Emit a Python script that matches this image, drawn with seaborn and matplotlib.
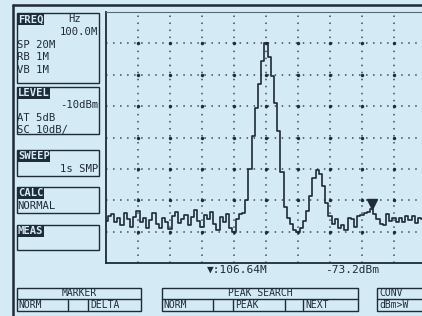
import numpy as np
import matplotlib
matplotlib.use("Agg")
import matplotlib.pyplot as plt
import matplotlib.transforms as mtrans
from matplotlib.lines import Line2D
from matplotlib.patches import Rectangle
import seaborn as sns
import pandas as pd

# Sweep-Einstellungen (Mitte 100 MHz, Span 20 MHz)
sweep_start = 90.0
sweep_stop = 110.0
ref_level = -10
scale_db = 10
n_div_x = 10
n_div_y = 8

# Messkurve in dBm, 101 Punkte
levels_dbm = [
    -76.5, -75.0, -74.5, -76.8, -75.5, -77.9, -74.2, -76.0, -78.6, -75.2,
    -73.5, -77.0, -75.8, -79.0, -76.2, -74.0, -77.5, -78.8, -75.5, -76.9,
    -79.2, -75.0, -73.8, -77.3, -76.0, -74.6, -78.0, -75.2, -73.2, -76.6,
    -78.5, -74.8, -76.1, -73.9, -77.6, -79.5, -75.3, -77.0, -74.4, -78.9,
    -80.0, -76.0, -74.5, -74.0, -70.0, -60.0, -49.5, -40.5, -33.0, -25.5,
    -20.0, -24.5, -30.5, -39.0, -48.0, -61.0, -72.0, -75.5, -77.5, -79.5,
    -80.0, -79.0, -76.5, -73.5, -68.5, -63.0, -60.3, -61.5, -65.5, -71.0,
    -75.0, -77.5, -76.0, -79.0, -77.8, -79.5, -75.5, -76.0, -78.5, -75.0,
    -74.8, -74.0, -73.8, -72.8, -74.5, -76.0, -77.5, -78.0, -74.5, -76.5,
    -75.5, -77.0, -75.8, -76.8, -74.9, -76.2, -75.0, -77.2, -75.5, -76.0,
    -75.5,
]
freq_mhz = np.linspace(sweep_start, sweep_stop, len(levels_dbm))

marker_freq = 106.64
marker_level = -73.2

# Linkes Menue
freq_lines = ["100.0M", "SP 20M", "RB 1M", "VB 1M"]
level_lines = ["-10dBm", "AT 5dB", "SC 10dB/"]
sweep_lines = ["1s SMP"]
calc_lines = ["NORMAL"]

bg = "#d4eaf4"
dark = "#1e2b38"
mono = ["DejaVu Sans Mono", "DejaVu Sans"]
fs = 7.6

W, H = 422, 316


def fx(x):
    return x / W


def fy(y):
    return 1 - y / H


sns.set_style("white", {"axes.facecolor": bg, "figure.facecolor": bg})
plt.rcParams["font.family"] = mono

fig = plt.figure(figsize=(W / 100, H / 100), dpi=100)
ax = fig.add_axes([fx(106), fy(263), 320 / W, 251 / H])

df = pd.DataFrame({"freq": freq_mhz, "level": levels_dbm})
sns.lineplot(data=df, x="freq", y="level", ax=ax, color=dark, lw=1.2,
             drawstyle="steps-mid", estimator=None, sort=False, zorder=4)

ax.set_xlim(sweep_start, sweep_stop)
ax.set_ylim(ref_level - n_div_y * scale_db, ref_level)
xt = np.linspace(sweep_start, sweep_stop, n_div_x + 1)[1:-1]
yt = np.linspace(ref_level - n_div_y * scale_db, ref_level, n_div_y + 1)[1:-1]
ax.set_xticks(xt)
ax.set_yticks(yt)
ax.tick_params(length=0, labelbottom=False, labelleft=False)
ax.grid(True, ls=(0, (1, 3.6)), lw=1.1, color="#3c4c5a")
gx, gy = np.meshgrid(xt, yt)
ax.scatter(gx.ravel(), gy.ravel(), s=6, color=dark, zorder=3, lw=0)
ax.set_xlabel("")
ax.set_ylabel("")

for side in ["left", "bottom"]:
    ax.spines[side].set_color(dark)
    ax.spines[side].set_linewidth(1.3)
ax.spines["top"].set_color("#5a6a78")
ax.spines["top"].set_linewidth(0.8)
ax.spines["right"].set_visible(False)

# Marker
off = mtrans.offset_copy(ax.transData, fig=fig, x=0, y=6, units="dots")
ax.plot([marker_freq], [marker_level], marker="v", ms=7, color=dark,
        transform=off, zorder=5)

# Aussenrahmen
fig.add_artist(Line2D([fx(13), 1], [fy(5), fy(5)], color=dark, lw=1.8))
fig.add_artist(Line2D([fx(13), fx(13)], [fy(5), 0], color=dark, lw=1.8))


def box(x0, y0, x1, y1):
    fig.add_artist(Rectangle((fx(x0), fy(y1)), (x1 - x0) / W, (y1 - y0) / H,
                             transform=fig.transFigure, fill=False,
                             ec=dark, lw=1.0))


def hline(x0, x1, y):
    fig.add_artist(Line2D([fx(x0), fx(x1)], [fy(y), fy(y)], color=dark, lw=1.0))


def vline(x, y0, y1):
    fig.add_artist(Line2D([fx(x), fx(x)], [fy(y0), fy(y1)], color=dark, lw=1.0))


def header(x, y, s):
    fig.text(fx(x), fy(y), s, fontsize=fs, color=bg, fontweight="bold",
             va="center", ha="left",
             bbox=dict(boxstyle="square,pad=0.05", fc=dark, ec="none"))


def txt(x, y, s, ha="left", size=fs):
    fig.text(fx(x), fy(y), s, fontsize=size, color=dark, va="center", ha=ha)


# FREQ
box(17, 13, 99, 83)
header(18, 19.5, "FREQ")
txt(68, 19.5, "Hz")
txt(98, 32, freq_lines[0], ha="right")
for y, s in zip([44.5, 57, 69.5], freq_lines[1:]):
    txt(17, y, s)

# LEVEL
box(17, 87, 99, 134)
header(18, 93, "LEVEL")
txt(98, 105.5, level_lines[0], ha="right")
txt(17, 118, level_lines[1])
txt(17, 130.5, level_lines[2])

# SWEEP
box(17, 150, 99, 176)
header(18, 156, "SWEEP")
txt(98, 169, sweep_lines[0], ha="right")

# CALC
box(17, 187, 99, 213)
header(18, 193, "CALC")
txt(17, 206, calc_lines[0])

# MEAS
box(17, 225, 99, 250)
header(18, 231, "MEAS")

# Marker-Anzeige
txt(207, 270, "\u25bc:106.64M", size=8)
txt(325, 270, "-73.2dBm", size=8)

# Softkeys unten
bs = 7
box(17, 288, 141, 311)
hline(17, 141, 299)
txt(79, 293.5, "MARKER", ha="center", size=bs)
txt(18, 305.5, "NORM", size=bs)
txt(90, 305.5, "DELTA", size=bs)
for x in [68, 88]:
    vline(x, 300, 310)

box(162, 288, 358, 311)
hline(162, 358, 299)
txt(260, 293.5, "PEAK SEARCH", ha="center", size=bs)
txt(163, 305.5, "NORM", size=bs)
txt(235, 305.5, "PEAK", size=bs)
txt(305, 305.5, "NEXT", size=bs)
for x in [213, 233, 285, 303]:
    vline(x, 300, 310)

box(377, 288, 440, 311)
hline(377, 422, 299)
txt(379, 293.5, "CONV", size=bs)
txt(379, 305.5, "dBm>W", size=bs)

fig.savefig("out.png", dpi=100, facecolor=bg)
